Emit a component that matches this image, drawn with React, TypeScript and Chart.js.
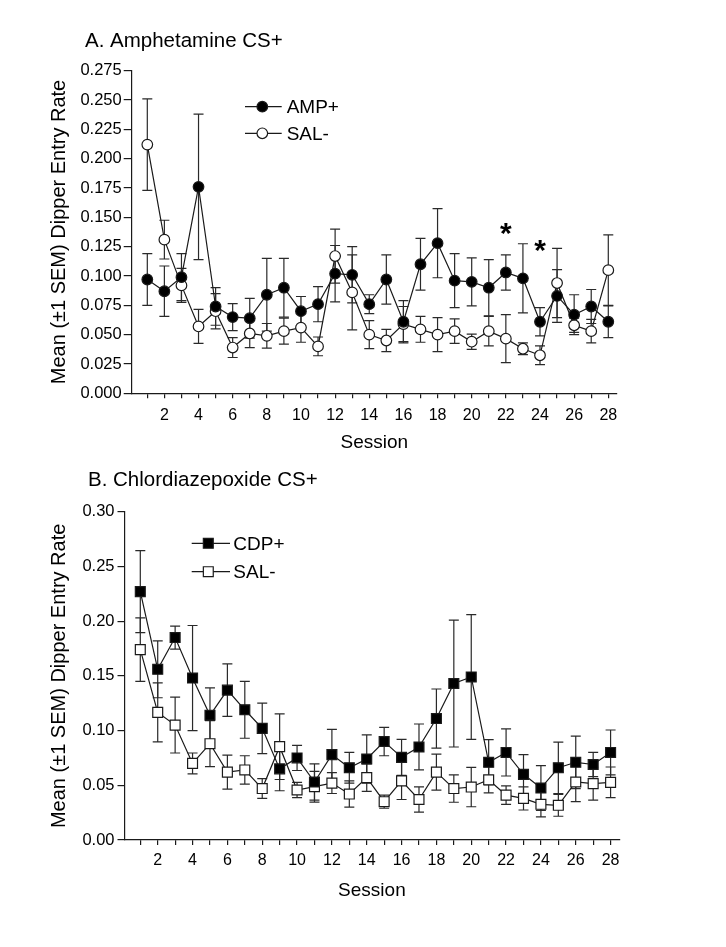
import React, { useEffect, useRef } from 'react';
import { Chart, registerables } from 'chart.js';
Chart.register(...registerables);

const FONT = "'Liberation Sans', Arial, Helvetica, sans-serif";

// ---------- Data ----------
const SESSIONS = [1, 2, 3, 4, 5, 6, 7, 8, 9, 10, 11, 12, 13, 14, 15, 16, 17, 18, 19, 20, 21, 22, 23, 24, 25, 26, 27, 28];

const Y_TICKS_A = [0, 0.025, 0.05, 0.075, 0.1, 0.125, 0.15, 0.175, 0.2, 0.225, 0.25, 0.275];
const Y_TICKS_B = [0, 0.05, 0.1, 0.15, 0.2, 0.25, 0.3];

// Panel A: Amphetamine CS+
const AMP_MEAN = [0.097, 0.087, 0.099, 0.176, 0.074, 0.065, 0.064, 0.084, 0.090, 0.070, 0.076, 0.102, 0.101, 0.076, 0.097, 0.061, 0.110, 0.128, 0.096, 0.095, 0.090, 0.103, 0.098, 0.061, 0.083, 0.067, 0.074, 0.061];
const AMP_SEM = [0.022, 0.0215, 0.020, 0.062, 0.016, 0.0115, 0.017, 0.031, 0.025, 0.0125, 0.015, 0.024, 0.024, 0.008, 0.021, 0.018, 0.022, 0.0295, 0.023, 0.0205, 0.024, 0.015, 0.0295, 0.012, 0.0225, 0.017, 0.0145, 0.0135];
const SAL_A_MEAN = [0.212, 0.131, 0.092, 0.057, 0.070, 0.039, 0.051, 0.049, 0.053, 0.056, 0.040, 0.117, 0.086, 0.050, 0.045, 0.059, 0.0545, 0.050, 0.053, 0.044, 0.053, 0.0466, 0.038, 0.0324, 0.094, 0.058, 0.053, 0.105];
const SAL_A_SEM = [0.039, 0.0165, 0.0145, 0.0145, 0.015, 0.0085, 0.012, 0.0105, 0.011, 0.0125, 0.008, 0.023, 0.032, 0.012, 0.0095, 0.015, 0.011, 0.0145, 0.0105, 0.0065, 0.0125, 0.0205, 0.005, 0.008, 0.0295, 0.006, 0.010, 0.030];
const STAR_SESSIONS_A = [22, 24];
const STAR_LEVELS_A = [0.1426, 0.128];

// Panel B: Chlordiazepoxide CS+
const CDP_MEAN = [0.227, 0.156, 0.185, 0.148, 0.114, 0.137, 0.119, 0.102, 0.065, 0.075, 0.053, 0.078, 0.066, 0.074, 0.090, 0.0755, 0.085, 0.111, 0.143, 0.149, 0.071, 0.080, 0.060, 0.0475, 0.066, 0.071, 0.069, 0.080];
const CDP_SEM = [0.0375, 0.026, 0.0105, 0.048, 0.025, 0.024, 0.026, 0.023, 0.020, 0.0115, 0.0165, 0.023, 0.014, 0.022, 0.013, 0.0165, 0.021, 0.027, 0.058, 0.057, 0.0207, 0.0215, 0.018, 0.0205, 0.0235, 0.024, 0.011, 0.0205];
const SAL_B_MEAN = [0.174, 0.1166, 0.105, 0.070, 0.088, 0.062, 0.064, 0.047, 0.0853, 0.0457, 0.0487, 0.052, 0.042, 0.057, 0.035, 0.054, 0.037, 0.062, 0.047, 0.0484, 0.055, 0.041, 0.038, 0.0326, 0.0317, 0.053, 0.0515, 0.0527];
const SAL_B_SEM = [0.029, 0.027, 0.0255, 0.0095, 0.021, 0.0155, 0.013, 0.009, 0.030, 0.007, 0.014, 0.0095, 0.012, 0.0125, 0.006, 0.017, 0.0115, 0.0165, 0.0125, 0.018, 0.012, 0.0085, 0.0106, 0.0115, 0.010, 0.018, 0.015, 0.014];

const INK = '#1a1a1a';

// ---------- Plugins ----------
const semBarsPlugin = {
  id: 'semBars',
  beforeDatasetsDraw(chart: any) {
    const { ctx } = chart;
    const x = chart.scales.x;
    const y = chart.scales.y;
    ctx.save();
    ctx.strokeStyle = '#2a2a2a';
    ctx.lineWidth = 1.2;
    chart.data.datasets.forEach((ds: any) => {
      ds.data.forEach((p: any, j: number) => {
        const e = ds.sem[j];
        const px = x.getPixelForValue(p.x);
        const top = y.getPixelForValue(p.y + e);
        const bot = y.getPixelForValue(p.y - e);
        ctx.beginPath();
        ctx.moveTo(px, top);
        ctx.lineTo(px, bot);
        ctx.moveTo(px - 5, top);
        ctx.lineTo(px + 5, top);
        ctx.moveTo(px - 5, bot);
        ctx.lineTo(px + 5, bot);
        ctx.stroke();
      });
    });
    ctx.restore();
  },
};

function drawMarker(ctx: CanvasRenderingContext2D, style: string, fill: string, cx: number, cy: number, r: number) {
  ctx.beginPath();
  if (style === 'rect') {
    const s = r * Math.SQRT1_2;
    ctx.rect(cx - s, cy - s, 2 * s, 2 * s);
  } else {
    ctx.arc(cx, cy, r, 0, Math.PI * 2);
  }
  ctx.fillStyle = fill;
  ctx.fill();
  ctx.lineWidth = 1.2;
  ctx.strokeStyle = INK;
  ctx.stroke();
}

const overlayPlugin = {
  id: 'overlay',
  afterDraw(chart: any, _args: any, opts: any) {
    const { ctx } = chart;
    ctx.save();
    // panel title
    ctx.fillStyle = '#000';
    ctx.font = `20.5px ${FONT}`;
    ctx.textAlign = 'left';
    ctx.textBaseline = 'alphabetic';
    ctx.fillText(opts.title, opts.titleX, opts.titleY);

    // legend
    const lg = opts.legend;
    chart.data.datasets.forEach((ds: any, i: number) => {
      const ly = lg.ys[i];
      ctx.beginPath();
      ctx.moveTo(lg.x1, ly);
      ctx.lineTo(lg.x2, ly);
      ctx.lineWidth = 1.2;
      ctx.strokeStyle = INK;
      ctx.stroke();
      drawMarker(ctx, ds.pointStyle, ds.pointBackgroundColor, lg.mx, ly, ds.pointRadius);
      ctx.fillStyle = '#000';
      ctx.font = `19px ${FONT}`;
      ctx.textAlign = 'left';
      ctx.textBaseline = 'middle';
      ctx.fillText(ds.label, lg.tx, ly + 1);
    });

    // significance stars
    const stars = opts.stars || { sessions: [], levels: [] };
    ctx.font = `bold 30px ${FONT}`;
    ctx.textAlign = 'center';
    ctx.textBaseline = 'alphabetic';
    ctx.fillStyle = '#000';
    stars.sessions.forEach((s: number, i: number) => {
      const px = chart.scales.x.getPixelForValue(s);
      const py = chart.scales.y.getPixelForValue(stars.levels[i]);
      ctx.fillText('*', px, py + 30 * 0.553);
    });
    ctx.restore();
  },
};

// ---------- Panel ----------
type PanelCfg = {
  width: number;
  height: number;
  area: { left: number; right: number; top: number; bottom: number };
  xMin: number;
  xMax: number;
  yMax: number;
  yTicks: number[];
  yDecimals: number;
  yTickLen: number;
  yTickPad: number;
  xTickPad: number;
  xTitlePad: number;
  datasets: any[];
  overlay: any;
};

function Panel({ cfg, top }: { cfg: PanelCfg; top: number }) {
  const ref = useRef<HTMLCanvasElement | null>(null);
  useEffect(() => {
    if (!ref.current) return;
    const a = cfg.area;
    const chart = new Chart(ref.current, {
      type: 'line',
      data: { datasets: cfg.datasets },
      options: {
        responsive: false,
        animation: false,
        events: [],
        layout: { padding: { left: 0, right: cfg.width - a.right, top: a.top, bottom: 0 } },
        plugins: {
          legend: { display: false },
          tooltip: { enabled: false },
          overlay: cfg.overlay,
        } as any,
        scales: {
          x: {
            type: 'linear',
            min: cfg.xMin,
            max: cfg.xMax,
            afterFit: (s: any) => { s.height = cfg.height - a.bottom; },
            afterBuildTicks: (s: any) => { s.ticks = SESSIONS.map((v) => ({ value: v })); },
            ticks: {
              autoSkip: false,
              maxRotation: 0,
              padding: cfg.xTickPad,
              color: '#000',
              font: { size: 16, family: FONT },
              callback: (v: any) => (Number(v) % 2 === 0 ? String(v) : ''),
            },
            grid: { display: true, drawOnChartArea: false, drawTicks: true, tickLength: 5, color: INK, lineWidth: 1.2 },
            border: { display: true, color: INK, width: 1.2 },
            title: {
              display: true,
              text: 'Session',
              color: '#000',
              font: { size: 19, family: FONT },
              padding: { top: 0, bottom: cfg.xTitlePad },
            },
          },
          y: {
            type: 'linear',
            min: 0,
            max: cfg.yMax,
            afterFit: (s: any) => { s.width = a.left; },
            afterBuildTicks: (s: any) => { s.ticks = cfg.yTicks.map((v) => ({ value: v })); },
            ticks: {
              padding: cfg.yTickPad,
              color: '#000',
              font: { size: 16.5, family: FONT },
              callback: (v: any) => Number(v).toFixed(cfg.yDecimals),
            },
            grid: { display: true, drawOnChartArea: false, drawTicks: true, tickLength: cfg.yTickLen, color: INK, lineWidth: 1.2 },
            border: { display: true, color: INK, width: 1.2 },
            title: {
              display: true,
              text: 'Mean (\u00B11 SEM) Dipper Entry Rate',
              color: '#000',
              font: { size: 20, family: FONT },
              padding: { top: 47, bottom: 0 },
            },
          },
        },
      } as any,
      plugins: [semBarsPlugin, overlayPlugin] as any,
    });
    return () => chart.destroy();
  }, [cfg]);
  return (
    <canvas
      ref={ref}
      width={cfg.width}
      height={cfg.height}
      style={{ position: 'absolute', left: 0, top, width: cfg.width, height: cfg.height }}
    />
  );
}

function series(label: string, means: number[], sems: number[], style: string, fill: string, r: number) {
  return {
    label,
    data: SESSIONS.map((s, i) => ({ x: s, y: means[i] })),
    sem: sems,
    borderColor: INK,
    borderWidth: 1.2,
    pointStyle: style,
    pointRadius: r,
    pointBackgroundColor: fill,
    pointBorderColor: INK,
    pointBorderWidth: 1.2,
    tension: 0,
    fill: false,
  };
}

const CFG_A: PanelCfg = {
  width: 726,
  height: 460,
  area: { left: 131.7, right: 617, top: 70.7, bottom: 393.3 },
  xMin: 0.086,
  xMax: 28.51,
  yMax: 0.275,
  yTicks: Y_TICKS_A,
  yDecimals: 3,
  yTickLen: 8,
  yTickPad: 2,
  xTickPad: 7.6,
  xTitlePad: 6,
  datasets: [
    series('AMP+', AMP_MEAN, AMP_SEM, 'circle', '#000', 5.3),
    series('SAL-', SAL_A_MEAN, SAL_A_SEM, 'circle', '#fff', 5.3),
  ],
  overlay: {
    title: 'A. Amphetamine CS+',
    titleX: 85,
    titleY: 46.7,
    legend: { x1: 245, x2: 281.7, mx: 262.3, tx: 286.7, ys: [106.7, 133.3] },
    stars: { sessions: STAR_SESSIONS_A, levels: STAR_LEVELS_A },
  },
};

const CFG_B: PanelCfg = {
  width: 726,
  height: 450,
  area: { left: 124.5, right: 619.3, top: 51.7, bottom: 380 },
  xMin: 0.093,
  xMax: 28.5,
  yMax: 0.3,
  yTicks: Y_TICKS_B,
  yDecimals: 2,
  yTickLen: 7,
  yTickPad: 3,
  xTickPad: 5.8,
  xTitlePad: 8.3,
  datasets: [
    series('CDP+', CDP_MEAN, CDP_SEM, 'rect', '#000', 7),
    series('SAL-', SAL_B_MEAN, SAL_B_SEM, 'rect', '#fff', 7),
  ],
  overlay: {
    title: 'B. Chlordiazepoxide CS+',
    titleX: 88,
    titleY: 26,
    legend: { x1: 191.7, x2: 230, mx: 208.3, tx: 233.3, ys: [83.3, 111.7] },
    stars: { sessions: [], levels: [] },
  },
};

export default function App() {
  return (
    <div style={{ position: 'absolute', left: 0, top: 0, width: 726, height: 947, background: '#fff' }}>
      <Panel cfg={CFG_A} top={0} />
      <Panel cfg={CFG_B} top={460} />
    </div>
  );
}
